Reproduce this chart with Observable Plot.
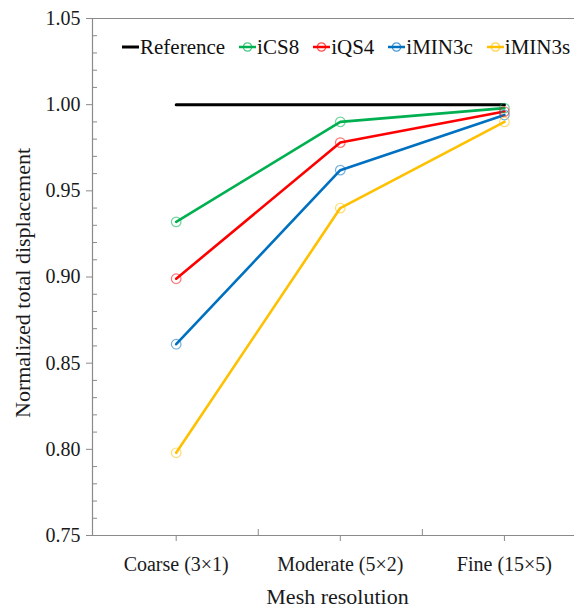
<!DOCTYPE html>
<html>
<head>
<meta charset="utf-8">
<script src="https://cdn.jsdelivr.net/npm/d3@7"></script>
<script src="https://cdn.jsdelivr.net/npm/@observablehq/plot@0.6"></script>
<style>
  body { margin: 0; background: #fff; }
  #wrap { position: relative; width: 574px; height: 608px; font-family: "Liberation Serif", serif; }
  #legend { position: absolute; top: 34px; left: 122px; display: flex; align-items: center;
            font-size: 21px; color: #111; line-height: 26px; white-space: nowrap; }
  #legend .item { display: flex; align-items: center; margin-right: 14px; }
  #legend svg { display: block; margin-right: 1px; }
</style>
</head>
<body>
<div id="wrap"><div id="legend"></div></div>
<script>
// Mesh levels along the horizontal axis
const meshLevels = ["Coarse (3×1)", "Moderate (5×2)", "Fine (15×5)"];

// Normalized total displacement for each element formulation
const reference = [1.000, 1.000, 1.000];
const iCS8      = [0.932, 0.990, 0.998];
const iQS4      = [0.899, 0.978, 0.996];
const iMIN3c    = [0.861, 0.962, 0.994];
const iMIN3s    = [0.798, 0.940, 0.990];

const seriesNames  = ["iCS8", "iQS4", "iMIN3c", "iMIN3s"];
const seriesValues = [iCS8, iQS4, iMIN3c, iMIN3s];
const seriesColors = ["#00B050", "#FF0000", "#0070C0", "#FFC000"];

// Axis ticks and titles
const yMajor = [0.75, 0.80, 0.85, 0.90, 0.95, 1.00, 1.05];
const yMinor = d3.range(76, 105).filter(v => v % 5 !== 0).map(v => v / 100);
const xMinor = [0.5, 1.5];
const xTitle = "Mesh resolution";
const yTitle = "Normalized total displacement";

const refRows = reference.map((v, i) => ({i, value: v}));
const rows = seriesNames.flatMap((name, s) =>
  seriesValues[s].map((v, i) => ({series: name, i, value: v})));

const axisGray = "#8a8a8a";
const W = 574, H = 608, mL = 92, mR = 0, mT = 18, mB = 73;
const xDomain = [-0.51, 2.427];

const chart = Plot.plot({
  width: W, height: H,
  marginLeft: mL, marginRight: mR, marginTop: mT, marginBottom: mB,
  style: {fontFamily: "'Liberation Serif', serif", fontSize: "20px", color: "#1a1a1a", background: "white"},
  x: {type: "linear", domain: xDomain},
  y: {domain: [0.75, 1.05]},
  color: {domain: seriesNames, range: seriesColors},
  marks: [
    // frame lines: top, bottom and left
    Plot.ruleY([0.75, 1.05], {stroke: axisGray, strokeWidth: 1.2}),
    Plot.ruleX([xDomain[0]], {stroke: axisGray, strokeWidth: 1.2}),
    // inward minor ticks
    Plot.ruleY(yMinor, {stroke: axisGray, strokeWidth: 1, insetRight: W - mL - mR - 5}),
    Plot.ruleX(xMinor, {stroke: axisGray, strokeWidth: 1, insetTop: H - mT - mB - 6}),
    // outward major ticks with labels
    Plot.axisY(yMajor, {
      tickSize: 6, tickPadding: 6, stroke: axisGray, fill: "#1a1a1a", fontSize: 20,
      tickFormat: d3.format(".2f"), label: null
    }),
    Plot.axisX([0, 1, 2], {
      tickSize: 6, tickPadding: 15, stroke: axisGray, fill: "#1a1a1a", fontSize: 20,
      tickFormat: i => meshLevels[i], label: null
    }),
    // axis titles
    Plot.text([yTitle], {text: d => d, frameAnchor: "left", rotate: -90, lineAnchor: "bottom",
      textAnchor: "middle", dx: -63, dy: 6, fontSize: 22, fill: "#1a1a1a"}),
    Plot.text([xTitle], {text: d => d, frameAnchor: "bottom", lineAnchor: "bottom",
      textAnchor: "middle", dx: 4, dy: 68, fontSize: 22, fill: "#1a1a1a"}),
    // reference solution
    Plot.line(refRows, {x: "i", y: "value", stroke: "black", strokeWidth: 3}),
    // element formulations
    Plot.line(rows, {x: "i", y: "value", z: "series", stroke: "series", strokeWidth: 2.6}),
    Plot.dot(rows, {x: "i", y: "value", stroke: "series", r: 4.8, strokeWidth: 1.2, strokeOpacity: 0.55, fill: "none"})
  ]
});
document.getElementById("wrap").prepend(chart);

// Legend drawn over the plot area
const legend = document.getElementById("legend");
const items = [{name: "Reference", color: "black", marker: false}]
  .concat(seriesNames.map((n, s) => ({name: n, color: seriesColors[s], marker: true})));
for (const it of items) {
  const div = document.createElement("div");
  div.className = "item";
  const sw = d3.create("svg").attr("width", 17).attr("height", 14);
  sw.append("line").attr("x1", 0).attr("x2", 17).attr("y1", 7).attr("y2", 7)
    .attr("stroke", it.color).attr("stroke-width", it.marker ? 2.5 : 3);
  if (it.marker) sw.append("circle").attr("cx", 8.5).attr("cy", 7).attr("r", 4.2)
    .attr("fill", "none").attr("stroke", it.color).attr("stroke-width", 1.2).attr("stroke-opacity", 0.7);
  div.appendChild(sw.node());
  const span = document.createElement("span");
  span.textContent = it.name;
  div.appendChild(span);
  legend.appendChild(div);
}
</script>
</body>
</html>
